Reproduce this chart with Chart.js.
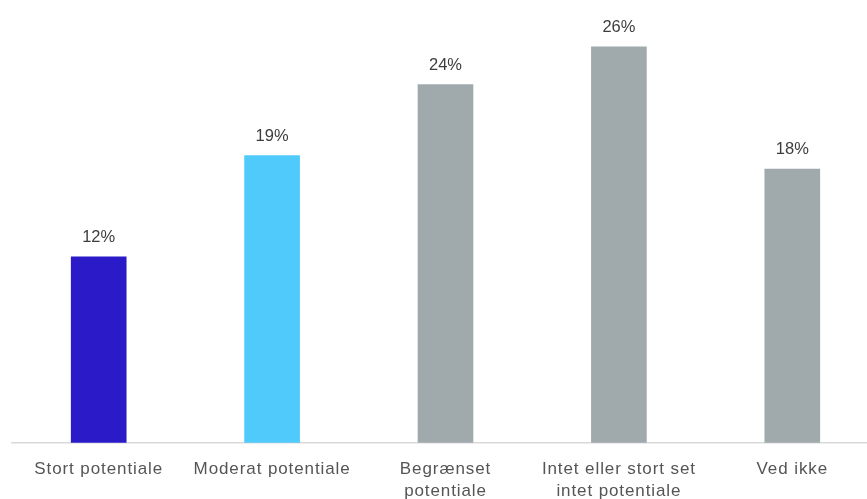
<!DOCTYPE html>
<html>
<head>
<meta charset="utf-8">
<script src="https://cdn.jsdelivr.net/npm/chart.js@4"></script>
<style>
  html, body { margin: 0; padding: 0; background: #fff; overflow: hidden; }
  #wrap { position: relative; width: 879px; height: 517px; }
</style>
</head>
<body>
<div id="wrap"><canvas id="mycanvas1"></canvas></div>
<script>
var categories = [
  "Stort potentiale",
  "Moderat potentiale",
  ["Begrænset", "potentiale"],
  ["Intet eller stort set", "intet potentiale"],
  "Ved ikke"
];
var shares = [12.3, 19.0, 23.7, 26.2, 18.1];
var barColors = ["#2a1ac8", "#4fcafb", "#a0a9ac", "#a0a9ac", "#a0a9ac"];

// percent labels over the bars
var valueLabels = {
  id: "valueLabels",
  beforeDraw: function(chart) {
    chart.ctx.letterSpacing = "0.9px";
  },
  afterDatasetsDraw: function(chart) {
    var ctx = chart.ctx;
    var meta = chart.getDatasetMeta(0);
    ctx.save();
    ctx.letterSpacing = "0px";
    ctx.font = "16.5px 'Liberation Sans', Arial, sans-serif";
    ctx.fillStyle = "#3d3d3d";
    ctx.textAlign = "center";
    ctx.textBaseline = "alphabetic";
    meta.data.forEach(function(bar, i) {
      ctx.fillText(Math.round(shares[i]) + "%", bar.x, bar.y - 15);
    });
    ctx.restore();
  }
};

var ctx = document.getElementById("mycanvas1");
var chart = new Chart(ctx, {
  type: "bar",
  data: {
    labels: categories,
    datasets: [{
      data: shares,
      backgroundColor: barColors,
      barThickness: 55
    }]
  },
  options: {
    responsive: true,
    maintainAspectRatio: false,
    animation: false,
    layout: { padding: { left: 12, right: 0, top: 19.5, bottom: 0 } },
    plugins: { legend: { display: false }, tooltip: { enabled: false } },
    scales: {
      x: {
        grid: { display: false, drawTicks: false },
        border: { display: true, color: "#d9d9d9", width: 1.5 },
        ticks: {
          color: "#555555",
          padding: 15,
          maxRotation: 0,
          autoSkip: false,
          font: { family: "'Liberation Sans', Arial, sans-serif", size: 17, lineHeight: 1.3 }
        }
      },
      y: {
        display: false,
        min: 0,
        max: 28
      }
    }
  },
  plugins: [valueLabels]
});
</script>
</body>
</html>
